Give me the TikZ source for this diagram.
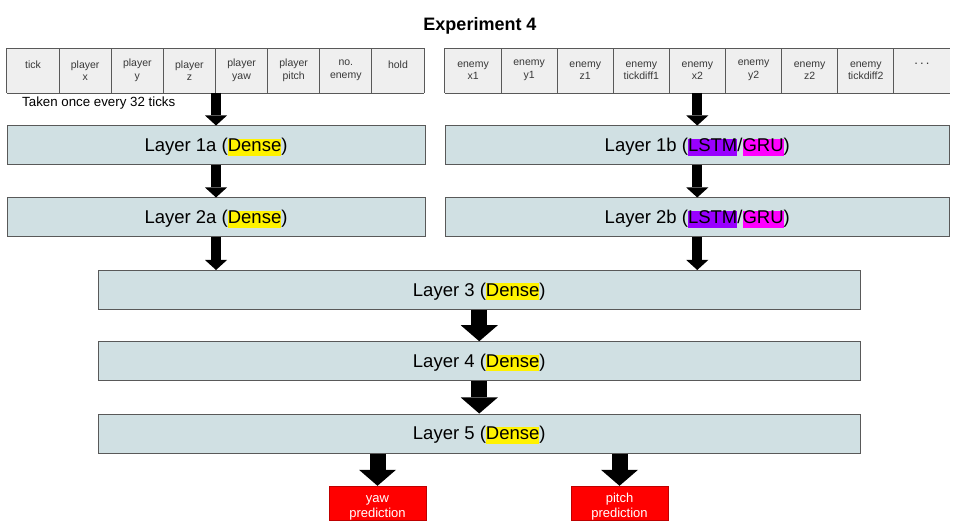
\documentclass[tikz,border=0pt]{standalone}
\usepackage{fontspec}
\setmainfont{Liberation Sans}
\usetikzlibrary{arrows.meta}

\definecolor{layerfill}{HTML}{D0E0E3}
\definecolor{cellfill}{HTML}{EFEFEF}
\definecolor{edgegray}{HTML}{595959}
\definecolor{lstmpurple}{HTML}{9900FF}
\definecolor{grumagenta}{HTML}{FF00FF}
\newcommand{\hlbox}[2]{{\setlength{\fboxsep}{0pt}\colorbox{#1}{\rule[-0.21em]{0pt}{0.905em}#2}}}
\newcommand{\predtext}[2]{\raisebox{-3.5pt}[\height][\depth]{\begin{tabular}{@{}c@{}}#1\\#2\end{tabular}}}
\newcommand{\layertext}[1]{\raisebox{-1.5pt}[\height][\depth]{#1}}

\tikzset{
  layer/.style={draw=edgegray, line width=1pt, fill=layerfill, minimum height=39pt, inner sep=0pt, font=\fontsize{18.5}{21}\selectfont},
  cell/.style={fill=cellfill, minimum width=#1, minimum height=44.5pt, inner sep=0pt, align=center, font=\fontsize{10.5}{12.5}\selectfont, text=black!78},
  pred/.style={draw=red!75!black, fill=red, text=white, minimum width=97pt, minimum height=34pt, inner sep=0pt, font=\fontsize{13}{15}\selectfont},
  smallarrow/.style={line width=10pt, -{Triangle[width=22pt,length=10pt,line width=0pt]}},
  bigarrow/.style={line width=16pt, -{Triangle[width=37pt,length=16pt,line width=0pt]}},
}

\begin{document}
\begin{tikzpicture}[x=1pt, y=-1pt]
\useasboundingbox (0,0) rectangle (959,529);

%the title
\node (title) at (480,25.5) {\fontsize{18}{21}\selectfont\bfseries Experiment 4};

%the player inputs
\foreach \txt [count=\i] in {tick\\~, player\\x, player\\y, player\\z, player\\yaw, player\\pitch, no.\\enemy, hold\\~}
  \node[cell=52.125pt] (p\i) at ({7+52.125*(\i-0.5)},70.5) {\txt};
\draw[edgegray, line width=0.8pt] (p1.north west) -- (p8.north east);
\draw[edgegray, line width=0.8pt] (p1.south west) -- (p8.south east);
\foreach \i in {1,...,8}
  \draw[edgegray, line width=0.8pt] (p\i.north west) -- (p\i.south west);
\draw[edgegray, line width=0.8pt] (p8.north east) -- (p8.south east);
\node[anchor=west, inner sep=0pt, font=\fontsize{13.3}{15}\selectfont] (note) at (22,103) {Taken once every 32 ticks};

%the enemy inputs
\foreach \txt [count=\i] in {enemy\\x1, enemy\\y1, enemy\\z1, enemy\\tickdiff1, enemy\\x2, enemy\\y2, enemy\\z2, enemy\\tickdiff2, {\fontsize{13}{12.5}\selectfont.\,.\,.}\\~}
  \node[cell=56.1pt] (e\i) at ({445+56.1*(\i-0.5)},70.5) {\txt};
\draw[edgegray, line width=0.8pt] (e1.north west) -- (e9.north east);
\draw[edgegray, line width=0.8pt] (e1.south west) -- (e9.south east);
\foreach \i in {1,...,9}
  \draw[edgegray, line width=0.8pt] (e\i.north west) -- (e\i.south west);

%the layers
\node[layer, minimum width=418pt] (l1a) at (216,145.5) {\layertext{Layer 1a (\hlbox{yellow}{Dense})}};
\node[layer, minimum width=418pt] (l2a) at (216,217.5) {\layertext{Layer 2a (\hlbox{yellow}{Dense})}};
\node[layer, minimum width=504.5pt] (l1b) at (697.25,145.5) {\layertext{Layer 1b (\hlbox{lstmpurple}{LSTM}/\hlbox{grumagenta}{GRU})}};
\node[layer, minimum width=504.5pt] (l2b) at (697.25,217.5) {\layertext{Layer 2b (\hlbox{lstmpurple}{LSTM}/\hlbox{grumagenta}{GRU})}};
\node[layer, minimum width=762.5pt] (l3) at (479.25,290) {\layertext{Layer 3 (\hlbox{yellow}{Dense})}};
\node[layer, minimum width=762.5pt] (l4) at (479.25,361.25) {\layertext{Layer 4 (\hlbox{yellow}{Dense})}};
\node[layer, minimum width=762.5pt] (l5) at (479.25,433.5) {\layertext{Layer 5 (\hlbox{yellow}{Dense})}};

%the outputs
\node[pred] (yaw) at (377.5,503) {\predtext{yaw}{prediction}};
\node[pred] (pitch) at (619.5,503) {\predtext{pitch}{prediction}};

%the arrows
\draw[smallarrow] (p4.south -| l1a.north) -- (l1a.north);
\draw[smallarrow] (l1a.south) -- (l2a.north);
\draw[smallarrow] (l2a.south) -- (l2a.south |- l3.north);
\draw[smallarrow] (e5.south -| l1b.north) -- (l1b.north);
\draw[smallarrow] (l1b.south) -- (l2b.north);
\draw[smallarrow] (l2b.south) -- (l2b.south |- l3.north);
\draw[bigarrow] (l3.south) -- (l4.north);
\draw[bigarrow] (l4.south) -- (l5.north);
\draw[bigarrow] (yaw.north |- l5.south) -- (yaw.north);
\draw[bigarrow] (pitch.north |- l5.south) -- (pitch.north);
\end{tikzpicture}
\end{document}
